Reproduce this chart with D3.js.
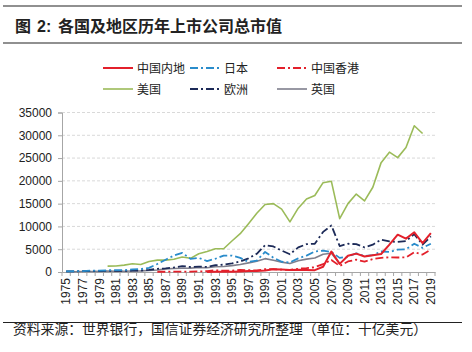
<!DOCTYPE html>
<html><head><meta charset="utf-8">
<script src="https://cdn.jsdelivr.net/npm/d3@7/dist/d3.min.js"></script>
<style>
html,body{margin:0;padding:0;background:#fff;}
svg{display:block;}
</style></head>
<body>
<svg id="chart" width="472" height="352"></svg>
<script>
const years = d3.range(1975, 2020);
const yTicks = [0, 5000, 10000, 15000, 20000, 25000, 30000, 35000];
const seriesNames = ["中国内地", "日本", "中国香港", "美国", "欧洲", "英国"];

const mainland = [null,null,null,null,null,null,null,null,null,null,null,null,null,null,null,null,null,
  18,40,44,42,114,206,231,331,581,524,463,513,447,402,1146,4479,1779,3573,4028,3389,3697,3949,6004,8188,7321,8711,6325,8515];
const japan = [140,170,185,300,280, 380,420,410,560,640, 900,1750,2700,3600,4200,
  2900,3100,2400,2900,3600, 3600,3100,2200,2500,4400, 3150,2250,2100,3000,3600,
  4500,4700,4400,3100,3400, 4100,3500,3700,4500,4400, 4900,5000,6200,5300,6200];
const hongkong = [null,null,null,null,null,null,null,null,null,null,null,
  50,54,74,77, 83,122,172,385,270, 304,449,413,343,609, 623,506,463,715,861,
  1055,1715,2654,1329,2305, 2711,2258,2832,3101,3233, 3185,3193,4351,3819,4899];
const usa = [null,null,null,null,null, 1300,1330,1500,1800,1650, 2300,2600,2600,2800,3300,
  3000,4000,4500,5100,5100, 6800,8400,10600,12900,14800, 15000,13800,11000,14000,16000,
  16800,19600,19900,11700,15000, 17100,15600,18600,24000,26300, 25100,27300,32100,30400,null];
const europe = [150,150,170,200,220, 250,230,230,280,300, 450,700,800,1000,1300,
  1100,1200,1100,1500,1600, 1900,2300,3000,4000,5900, 5600,4700,3900,5400,6100,
  6200,8800,10200,5700,6200, 6100,5400,6000,7100,6700, 6600,6800,8300,6000,7800];
const uk = [80,70,110,120,140, 200,180,180,220,240, 330,440,680,770,830,
  850,990,930,1150,1210, 1400,1640,2000,2370,2930, 2580,2170,1860,2460,2820,
  3060,3900,4100,1850, null,null,null,null,null,null,null,null,null,null,null];

const seriesValues = [mainland, japan, hongkong, usa, europe, uk];
const styles = [
  {color:"#e3202b", dash:null, w:2},
  {color:"#2a8ccb", dash:"8,3,2,3", w:1.8},
  {color:"#e3202b", dash:"8,3,2,3", w:1.8},
  {color:"#9bbb59", dash:null, w:1.6},
  {color:"#1c2a58", dash:"8,3,2,3", w:1.8},
  {color:"#7f7f8c", dash:null, w:1.6}
];

const svg = d3.select("#chart");
const cjk = "'Noto Sans CJK SC','Noto Sans',sans-serif";
const num = "'Liberation Sans',Arial,sans-serif";

// Header
svg.append("line").attr("x1",3).attr("x2",462).attr("y1",6).attr("y2",6).attr("stroke","#222").attr("stroke-width",1.2);
svg.append("line").attr("x1",3).attr("x2",462).attr("y1",43).attr("y2",43).attr("stroke","#222").attr("stroke-width",1.2);
svg.append("text").attr("x",15).attr("y",32).attr("font-family",cjk).attr("font-weight","bold")
  .attr("font-size",16).attr("fill","#222").text("图");
svg.append("text").attr("x",37).attr("y",32).attr("font-family",num).attr("font-weight","bold")
  .attr("font-size",16).attr("fill","#222").text("2:");
svg.append("text").attr("x",58).attr("y",32).attr("font-family",cjk).attr("font-weight","bold")
  .attr("font-size",16).attr("fill","#222").text("各国及地区历年上市公司总市值");

// Scales
const x = d3.scaleBand().domain(years).range([62, 435]).padding(0);
const y = d3.scaleLinear().domain([0, 35000]).range([272, 112.5]);
const cx = yr => x(yr) + x.bandwidth()/2;

// Grid
svg.append("g").selectAll("line").data(yTicks.filter(t=>t>0)).join("line")
  .attr("x1",62).attr("x2",435).attr("y1",d=>y(d)).attr("y2",d=>y(d))
  .attr("stroke","#d9d9d9").attr("stroke-width",1).attr("stroke-dasharray","3,2");

// Y axis
const yAxis = d3.axisLeft(y).tickValues(yTicks).tickSize(4).tickPadding(6).tickFormat(d3.format("d"));
const gy = svg.append("g").attr("transform","translate(62,0)").call(yAxis);
gy.selectAll("path,line").attr("stroke","#a6a6a6");
gy.selectAll("text").attr("font-family",num).attr("font-size",12).attr("fill","#222");

// X axis
const xAxis = d3.axisBottom(x).tickSize(0).tickPadding(0).tickFormat(d => d % 2 === 1 ? String(d) : "");
const gx = svg.append("g").attr("transform","translate(0,272)").call(xAxis);
gx.select("path").attr("stroke","#a6a6a6");
gx.selectAll("text").attr("font-family",num).attr("font-size",12).attr("fill","#222")
  .attr("transform","rotate(-90)").attr("text-anchor","end").attr("dx","-6").attr("dy","0.35em").attr("y",0);
// boundary ticks
svg.append("g").selectAll("line").data(years.concat([2020])).join("line")
  .attr("x1",d=> d===2020 ? 435 : x(d)).attr("x2",d=> d===2020 ? 435 : x(d))
  .attr("y1",272).attr("y2",276).attr("stroke","#a6a6a6");

// Lines
const line = d3.line().defined(d => d.v != null).x(d => cx(d.yr)).y(d => y(d.v));
const order = [5,3,4,1,2,0];
order.forEach(i => {
  const data = years.map((yr, j) => ({yr, v: seriesValues[i][j]}));
  svg.append("path").datum(data).attr("d", line).attr("fill","none")
    .attr("stroke", styles[i].color).attr("stroke-width", styles[i].w)
    .attr("stroke-dasharray", styles[i].dash).attr("stroke-linejoin","round");
});

// Legend
const legPos = [[103,68],[190,68],[277,68],[103,89],[190,89],[277,89]];
seriesNames.forEach((n,i) => {
  const [lx, ly] = legPos[i];
  svg.append("line").attr("x1",lx).attr("x2",lx+30).attr("y1",ly).attr("y2",ly)
    .attr("stroke",styles[i].color).attr("stroke-width",styles[i].w)
    .attr("stroke-dasharray",styles[i].dash);
  svg.append("text").attr("x",lx+34).attr("y",ly+4.5).attr("font-family",cjk)
    .attr("font-size",12).attr("fill","#222").text(n);
});

// Source
svg.append("line").attr("x1",3).attr("x2",462).attr("y1",322.5).attr("y2",322.5).attr("stroke","#222").attr("stroke-width",1.2);
svg.append("text").attr("x",13).attr("y",334).attr("font-family",cjk)
  .attr("font-size",13.8).attr("fill","#222").attr("textLength",414).attr("lengthAdjust","spacing")
  .text("资料来源：世界银行，国信证券经济研究所整理（单位：十亿美元）");
</script>
</body></html>
